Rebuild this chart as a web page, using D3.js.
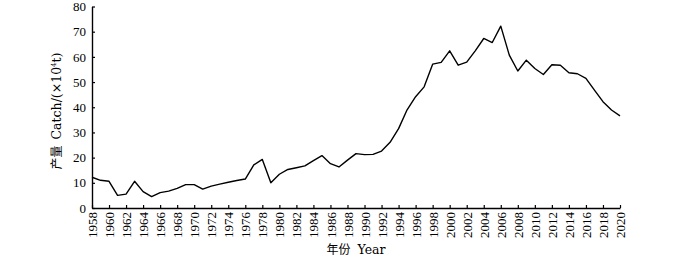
<!DOCTYPE html>
<html>
<head>
<meta charset="utf-8">
<script src="https://cdn.jsdelivr.net/npm/d3@7"></script>
<style>
  body { margin: 0; background: #fff; }
  svg { display: block; }
  .tick text { font-family: "Liberation Serif", "DejaVu Serif", serif; font-size: 13px; fill: #000; }
</style>
</head>
<body>
<svg width="700" height="258"></svg>
<script>
// catch data (x10^4 t)
var years = d3.range(1958, 2021);
var catchValues = [
  12.2, 11.0, 10.6, 5.0, 5.5, 10.6, 6.5, 4.5, 6.1, 6.7,
  7.8, 9.3, 9.3, 7.5, 8.7, 9.5, 10.2, 10.9, 11.5, 17.1,
  19.3, 10.0, 13.4, 15.3, 16.0, 16.7, 18.8, 20.8, 17.6, 16.3,
  19.0, 21.6, 21.2, 21.3, 22.6, 26.1, 31.5, 39.0, 44.2, 48.1,
  57.1, 57.8, 62.4, 56.7, 57.9, 62.4, 67.3, 65.7, 72.2, 60.7,
  54.4, 58.7, 55.4, 53.0, 56.9, 56.7, 53.7, 53.3, 51.5, 46.8,
  42.2, 38.9, 36.6
];
var xTicks = d3.range(1958, 2021, 2);
var yTicks = [0, 10, 20, 30, 40, 50, 60, 70, 80];

var svg = d3.select("svg");
var plotL = 92, plotR = 620, plotT = 6.5, plotB = 208;

var x = d3.scaleLinear().domain([1958, 2020]).range([plotL, plotR]);
var y = d3.scaleLinear().domain([0, 80]).range([plotB, plotT]);

// x axis, ticks pointing inward, labels rotated
var gx = svg.append("g")
    .attr("transform", "translate(0," + plotB + ")")
    .call(d3.axisBottom(x).tickValues(xTicks).tickFormat(d3.format("d"))
      .tickSizeInner(-3).tickSizeOuter(0).tickPadding(4));
gx.select(".domain").attr("stroke", "#000").attr("stroke-width", 1.4);
gx.selectAll(".tick line").attr("stroke", "#000").attr("stroke-width", 1.2);
gx.selectAll(".tick text")
    .attr("transform", "rotate(-90)")
    .attr("text-anchor", "end")
    .attr("x", -4)
    .attr("y", 0)
    .attr("dy", "0.35em");

// y axis
var gy = svg.append("g")
    .attr("transform", "translate(" + plotL + ",0)")
    .call(d3.axisLeft(y).tickValues(yTicks)
      .tickSizeInner(-3).tickSizeOuter(0).tickPadding(6));
gy.select(".domain").attr("stroke", "#000").attr("stroke-width", 1.4);
gy.selectAll(".tick line").attr("stroke", "#000").attr("stroke-width", 1.2);

// line
var line = d3.line()
    .x(function(d, i) { return x(years[i]); })
    .y(function(d) { return y(d); });

svg.append("path")
    .datum(catchValues)
    .attr("fill", "none")
    .attr("stroke", "#000")
    .attr("stroke-width", 1.4)
    .attr("stroke-linejoin", "round")
    .attr("d", line);

// axis titles
var ylab = svg.append("text")
    .attr("transform", "translate(61,111) rotate(-90)")
    .attr("text-anchor", "middle")
    .attr("font-size", 12.5)
    .attr("fill", "#000");
ylab.append("tspan").attr("font-family", "'Noto Sans CJK SC', sans-serif").attr("font-size", 12).text("产量");
ylab.append("tspan").attr("font-family", "'DejaVu Serif', serif").attr("dx", 6).text("Catch/(×10");
ylab.append("tspan").attr("font-family", "'DejaVu Serif', serif").attr("font-size", 7).attr("dy", -5).text("4");
ylab.append("tspan").attr("font-family", "'DejaVu Serif', serif").attr("dy", 5).text("t)");

var xlab = svg.append("text")
    .attr("x", 356)
    .attr("y", 254)
    .attr("text-anchor", "middle")
    .attr("font-size", 12.5)
    .attr("fill", "#000");
xlab.append("tspan").attr("font-family", "'Noto Sans CJK SC', sans-serif").attr("font-size", 12).text("年份");
xlab.append("tspan").attr("font-family", "'DejaVu Serif', serif").attr("dx", 7).text("Year");
</script>
</body>
</html>
